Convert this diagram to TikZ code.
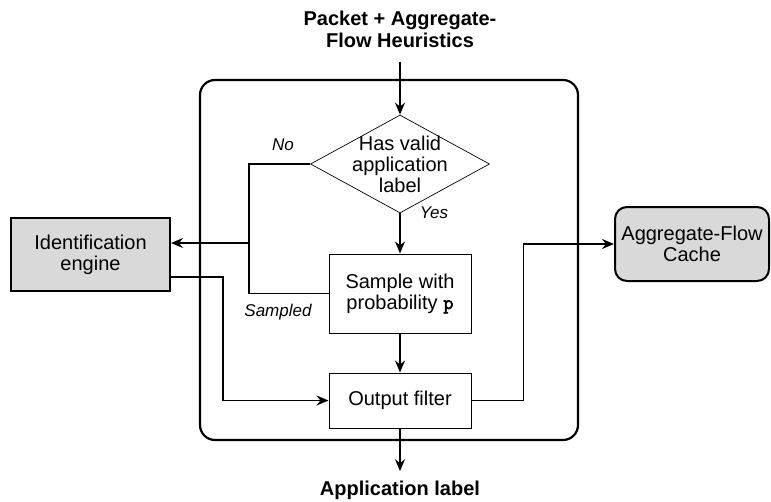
\documentclass[tikz,border=0pt]{standalone}
\usepackage{fontspec}
\setmainfont{Liberation Sans}
\newfontfamily\codefont[FakeBold=2.5]{Latin Modern Mono}
\usetikzlibrary{shapes.geometric,arrows.meta}

\definecolor{boxgray}{gray}{0.85}

\tikzset{
    txt/.style={font=\fontsize{20}{21}\selectfont, align=center},
    headtxt/.style={font=\fontsize{20}{22}\selectfont\bfseries, align=center},
    branchtxt/.style={font=\fontsize{17}{18}\selectfont\itshape},
    procbox/.style={txt, draw, line width=1pt, minimum width=142, inner sep=0},
    extbox/.style={txt, draw, fill=boxgray, line width=2pt, inner sep=0},
    arr/.style={-{Stealth[length=12pt, width=10pt, inset=4pt]}, line width=1.3pt},
    conn/.style={line width=1.3pt}
}

\begin{document}
\begin{tikzpicture}[x=1pt, y=-1pt]
    \useasboundingbox (0,0) rectangle (771,501);

    % cadre du moteur
    \draw[line width=2.2pt, rounded corners=15] (200,80) rectangle (578,440);

    % noeuds
    \node[headtxt] (input) at (400,29) {Packet + Aggregate-\\Flow Heuristics};
    \node[draw, diamond, line width=0.7pt, minimum width=179, minimum height=98, inner sep=0] (valid) at (400,164) {};
    \node[txt] (validtxt) at (valid) {Has valid\\application\\label};
    \node[procbox, minimum height=79] (sample) at (400,293.5) {Sample with\\probability {\codefont p}};
    \node[procbox, minimum height=55] (filter) at (400,400.5) {Output filter};
    \node[extbox, minimum width=159, minimum height=73] (ident) at (90.5,254.5) {Identification\\engine};
    \node[extbox, rounded corners=12, minimum width=154, minimum height=74] (cache) at (692,244) {Aggregate-Flow\\Cache};
    \node[headtxt] (output) at (400,490) {Application label};

    % etiquettes
    \node[branchtxt] (no) at (283,145) {No};
    \node[branchtxt] (yes) at (434,213) {Yes};
    \node[branchtxt] (sampled) at (278,312) {Sampled};

    % points de passage
    \coordinate (split) at (249,243);
    \coordinate (bend) at (223,277);

    % liaisons
    \draw[arr] ([yshift=-11pt]input.south) -- (valid.north);
    \draw[arr] (valid.south) -- (sample.north);
    \draw[arr] (sample.south) -- (filter.north);
    \draw[arr] (filter.south) -- ([yshift=6pt]output.north);
    \draw[conn] (valid.west) -| (split);
    \draw[conn] (sample.west) -| (split);
    \draw[arr] (split) -- (ident.east |- split);
    \draw[arr] (ident.east |- bend) -- (bend) |- (filter.west);
    \draw[arr] (filter.east) -- ++(52,0) |- (cache.west);
\end{tikzpicture}
\end{document}
